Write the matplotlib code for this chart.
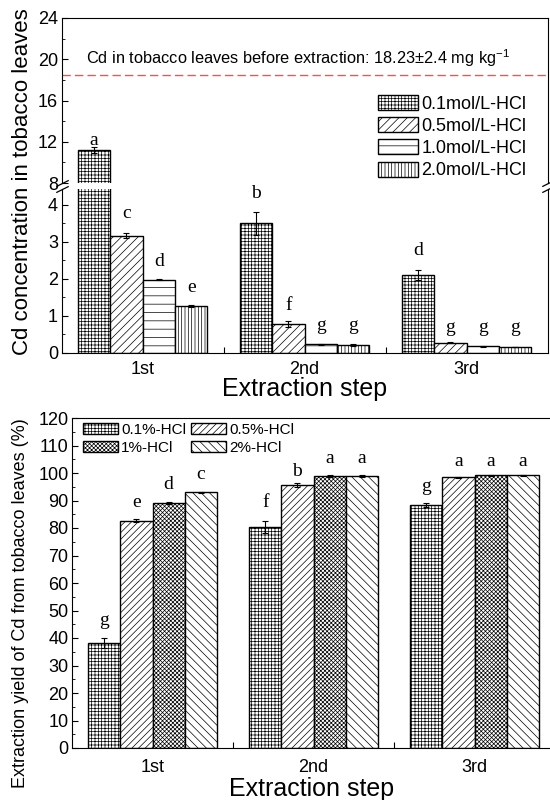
import numpy as np
import matplotlib.pyplot as plt
from matplotlib.ticker import MultipleLocator

plt.rcParams['font.family'] = ['Liberation Sans', 'DejaVu Sans']
plt.rcParams['mathtext.fontset'] = 'custom'
plt.rcParams['mathtext.rm'] = 'Liberation Sans'
plt.rcParams['hatch.linewidth'] = 0.5

steps = ['1st', '2nd', '3rd']

# top panel: Cd left in tobacco leaves (mg/kg), one row per HCl strength
conc_labels = ['0.1mol/L-HCl', '0.5mol/L-HCl', '1.0mol/L-HCl', '2.0mol/L-HCl']
conc_vals = [[11.2, 3.50, 2.10],
             [3.17, 0.78, 0.28],
             [1.98, 0.23, 0.18],
             [1.27, 0.21, 0.16]]
conc_err = [[0.3, 0.30, 0.13],
            [0.06, 0.09, 0.02],
            [0.02, 0.02, 0.01],
            [0.02, 0.02, 0.01]]
conc_letters = [['a', 'b', 'd'], ['c', 'f', 'g'], ['d', 'g', 'g'], ['e', 'g', 'g']]
conc_letter_y = [[12.15, 4.32, 2.78],
                 [3.78, 1.27, 0.68],
                 [2.46, 0.73, 0.68],
                 [1.78, 0.73, 0.68]]
before_cd = 18.5

# bottom panel: extraction yield (%)
yield_labels = ['0.1%-HCl', '0.5%-HCl', '1%-HCl', '2%-HCl']
yield_vals = [[38.3, 80.5, 88.3],
              [82.7, 95.6, 98.4],
              [89.0, 98.9, 99.1],
              [93.0, 98.9, 99.2]]
yield_err = [[1.8, 2.2, 0.8],
             [0.4, 0.6, 0.3],
             [0.3, 0.2, 0.2],
             [0.2, 0.2, 0.2]]
yield_letters = [['g', 'f', 'g'], ['e', 'b', 'a'], ['d', 'a', 'a'], ['c', 'a', 'a']]
yield_letter_y = [[46.5, 89.2, 95.0],
                  [89.2, 100.5, 104.1],
                  [96.0, 105.3, 104.1],
                  [99.5, 105.3, 104.1]]

top_hatch = ['+++++', '////', '--', '|||||']
bot_hatch = ['+++++', '/////', 'xxxxxxxx', '\\\\\\\\']

W = 550.0
H = 800.0
x = np.arange(1, 4)
bw = 0.2
ekw = dict(ecolor='k', elinewidth=0.8, capsize=2.5, capthick=0.8)
letter_font = dict(family='Liberation Serif', fontsize=14, ha='center', va='center')

fig = plt.figure(figsize=(5.5, 8), dpi=100)
ax_hi = fig.add_axes([61.5/W, 1-183/H, 486/W, 165/H])
ax_lo = fig.add_axes([61.5/W, 1-353/H, 486/W, 164/H])
ax_b = fig.add_axes([72/W, 1-748/H, 483/W, 330/H])

#Top panel, drawn twice for the broken axis
handles = []
for i in range(4):
    pos = x + (i - 1.5)*bw
    for ax in (ax_hi, ax_lo):
        b = ax.bar(pos, conc_vals[i], bw, yerr=conc_err[i], color='white',
                   edgecolor='k', linewidth=1, hatch=top_hatch[i],
                   error_kw=ekw, label=conc_labels[i])
    handles.append(b)
    for j in range(3):
        yl = conc_letter_y[i][j]
        ax = ax_hi if yl > 8 else ax_lo
        ax.text(pos[j], yl, conc_letters[i][j], **letter_font)

ax_hi.set_ylim(8, 24)
ax_lo.set_ylim(0, 4.43)
for ax in (ax_hi, ax_lo, ax_b):
    ax.set_xlim(0.5, 3.5)
    ax.tick_params(axis='y', which='both', direction='in', labelsize=13)
    ax.tick_params(axis='y', which='major', length=4, pad=2.5)
    ax.tick_params(axis='y', which='minor', length=2.5)
ax_hi.yaxis.set_major_locator(MultipleLocator(4))
ax_hi.yaxis.set_minor_locator(MultipleLocator(2))
ax_lo.yaxis.set_major_locator(MultipleLocator(1))
ax_lo.yaxis.set_minor_locator(MultipleLocator(0.5))
ax_hi.spines['bottom'].set_visible(False)
ax_lo.spines['top'].set_visible(False)
ax_hi.set_xticks([])

# break marks
mk = dict(marker=[(-1, -0.5), (1, 0.5)], markersize=9, linestyle='none',
          color='k', mec='k', mew=0.9, clip_on=False)
ax_hi.plot([0, 1], [0, 0], transform=ax_hi.transAxes, **mk)
ax_lo.plot([0, 1], [1, 1], transform=ax_lo.transAxes, **mk)

ax_hi.axhline(before_cd, color='#ff4d4d', linewidth=1, linestyle=(0, (6, 3)))
ax_hi.text(0.651, 19.55, 'Cd in tobacco leaves before extraction: 18.23$\\pm$2.4 mg kg$^{-1}$',
           fontsize=11.8, va='baseline')

ax_hi.legend(handles=handles, loc='upper left', bbox_to_anchor=(378/W, 1-95/H),
             bbox_transform=fig.transFigure, frameon=False, fontsize=13,
             handlelength=2.2, handleheight=0.9, handletextpad=0.2,
             labelspacing=0.25, borderpad=0, borderaxespad=0)

for ax in (ax_lo, ax_b):
    ax.set_xticks([1.5, 2.5])
    ax.set_xticklabels([])
    ax.tick_params(axis='x', which='major', direction='in', length=4)
    ax.set_xticks(x, minor=True)
    ax.set_xticklabels(steps, minor=True)
    ax.tick_params(axis='x', which='minor', length=0, labelsize=13, pad=6)

fig.text(23/W, 1-182/H, 'Cd concentration in tobacco leaves', rotation=90,
         ha='center', va='center', fontsize=16)
fig.text(305/W, 1-389/H, 'Extraction step', ha='center', va='center', fontsize=18)

#Bottom panel
handles = []
for i in range(4):
    pos = x + (i - 1.5)*bw
    b = ax_b.bar(pos, yield_vals[i], bw, yerr=yield_err[i], color='white',
                 edgecolor='k', linewidth=1, hatch=bot_hatch[i],
                 error_kw=ekw, label=yield_labels[i])
    handles.append(b)
    for j in range(3):
        ax_b.text(pos[j], yield_letter_y[i][j], yield_letters[i][j], **letter_font)

ax_b.set_ylim(0, 120)
ax_b.yaxis.set_major_locator(MultipleLocator(10))
ax_b.yaxis.set_minor_locator(MultipleLocator(5))
ax_b.tick_params(axis='x', which='minor', pad=8)

# legend is filled column-wise, so reorder to get 0.1/0.5 on the first row
order = [0, 2, 1, 3]
ax_b.legend(handles=[handles[k] for k in order], loc='upper left',
            bbox_to_anchor=(83/W, 1-423/H), bbox_transform=fig.transFigure,
            ncol=2, frameon=False, fontsize=11, handlelength=2.3,
            handleheight=0.7, handletextpad=0.2, columnspacing=0.3,
            labelspacing=0.25, borderpad=0, borderaxespad=0)

fig.text(21/W, 1-603/H, 'Extraction yield of Cd from tobacco leaves (%)', rotation=90,
         ha='center', va='center', fontsize=13)
fig.text(312/W, 1-789/H, 'Extraction step', ha='center', va='center', fontsize=18)

plt.savefig('out.png', dpi=100)
